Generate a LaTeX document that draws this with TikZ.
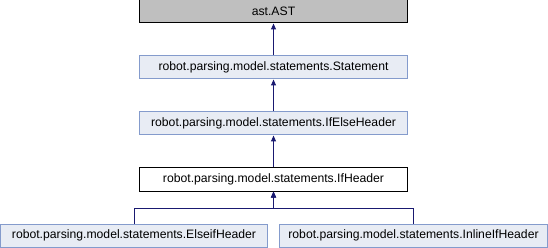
\documentclass[tikz,border=0pt]{standalone}
\usepackage{fontspec}
\setmainfont{Liberation Sans}
\usetikzlibrary{arrows.meta}
\definecolor{boxfill}{RGB}{232,236,244}
\definecolor{boxline}{RGB}{132,155,204}
\definecolor{edgecol}{RGB}{25,25,112}
\definecolor{grayfill}{RGB}{191,191,191}
\begin{document}
\begin{tikzpicture}[x=1pt,y=-1pt,
  cls/.style={draw=boxline, fill=boxfill, line width=1pt, inner sep=0pt,
    minimum height=23pt, font=\fontsize{12.2}{14}\selectfont},
  root/.style={cls, draw=black, fill=grayfill},
  cur/.style={cls, draw=black, fill=white},
  inh/.style={draw=edgecol, line width=1pt, -{Triangle[length=6pt,width=5pt]}}]
\useasboundingbox (0,0) rectangle (548,248);
\node[root, minimum width=268pt] (ast) at (273.5,11.5) {ast.AST};
\node[cls, minimum width=268pt] (stmt) at (273.5,67.5) {robot.parsing.model.statements.Statement};
\node[cls, minimum width=268pt] (ifelse) at (273.5,123.5) {robot.parsing.model.statements.IfElseHeader};
\node[cur, minimum width=268pt] (ifh) at (273.5,179.5) {robot.parsing.model.statements.IfHeader};
\node[cls, minimum width=267pt] (elseif) at (134,235.5) {robot.parsing.model.statements.ElseifHeader};
\node[cls, minimum width=268pt] (inline) at (413.5,235.5) {robot.parsing.model.statements.InlineIfHeader};
\coordinate (junc) at (273.5,208);
\draw[inh] (stmt.north) -- (ast.south);
\draw[inh] (ifelse.north) -- (stmt.south);
\draw[inh] (ifh.north) -- (ifelse.south);
\draw[inh] (elseif.north) |- (junc) -- (ifh.south);
\draw[inh] (inline.north) |- (junc) -- (ifh.south);
\end{tikzpicture}
\end{document}
